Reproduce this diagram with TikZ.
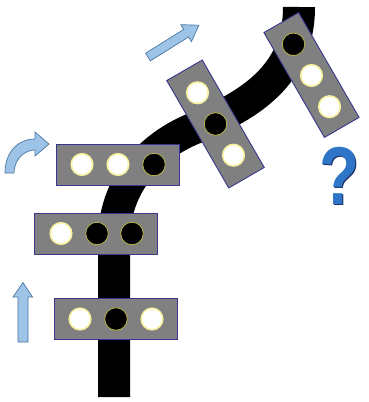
\documentclass[tikz,border=0pt]{standalone}
\usepackage{fontspec}
\definecolor{blockgray}{RGB}{128,128,128}
\definecolor{blockedge}{RGB}{55,55,145}
\definecolor{arrowfill}{RGB}{157,195,230}
\definecolor{arrowedge}{RGB}{75,120,165}
\definecolor{qblue}{RGB}{46,117,200}
\definecolor{qshadow}{RGB}{25,45,100}
\definecolor{litrim}{RGB}{248,242,160}
\definecolor{darktrim}{RGB}{190,190,70}
\newfontfamily\qfont{Liberation Sans}
\begin{document}
\begin{tikzpicture}[x=1pt,y=-1pt,
  block/.style={draw=blockedge, line width=0.9pt, fill=blockgray, minimum width=123pt, minimum height=41pt, inner sep=0pt, outer sep=0pt},
  lit/.style={circle, fill=white, draw=litrim, line width=1.6pt, minimum size=21.5pt, inner sep=0pt},
  dark/.style={circle, fill=black, draw=darktrim, line width=0.7pt, minimum size=22.5pt, inner sep=0pt},
  hint/.style={fill=arrowfill, draw=arrowedge, line width=0.7pt, line join=miter},
  track/.style={line width=32pt, draw=black},
  qmark/.style={font=\qfont\bfseries\fontsize{82}{82}\selectfont, inner sep=0pt, xscale=0.8}]

\useasboundingbox (0,0) rectangle (369,402);
\fill[white] (0,0) rectangle (369,402);

% track
\coordinate (t0) at (114,397);
\coordinate (t1) at (114,240);
\coordinate (t2) at (195,128);
\coordinate (t3) at (299,7);
\draw[track] (t0) -- (t1) .. controls (114,185) and (150,146) .. (t2) .. controls (250,105) and (299,75) .. (t3);

% blocks
\node[block] (A) at (115.5,319) {};
\node[block] (B) at (96,233.5) {};
\node[block] (C) at (118,165) {};
\node[block, rotate=-60, minimum width=124pt] (D) at (215.5,124) {};
\node[block, rotate=-60, minimum width=121pt, minimum height=40pt] (E) at (311.5,75) {};

% lamps
\node[lit]  (A1) at (80,319) {};
\node[dark] (A2) at (116,319) {};
\node[lit]  (A3) at (152,319) {};

\node[lit]  (B1) at (61,233.5) {};
\node[dark] (B2) at (97,233.5) {};
\node[dark] (B3) at (132,233.5) {};

\node[lit]  (C1) at (82,164.5) {};
\node[lit]  (C2) at (118,164.5) {};
\node[dark] (C3) at (154,164.5) {};

\node[lit]  (D1) at (197.5,92.8) {};
\node[dark] (D2) at (215.5,124) {};
\node[lit]  (D3) at (233.5,155.2) {};

\node[dark] (E1) at (293.5,44.3) {};
\node[lit]  (E2) at (311.5,75.5) {};
\node[lit]  (E3) at (329.5,106.7) {};

% hint arrows
\draw[hint] (18,342) -- (18,297) -- (13,297) -- (23,282.5) -- (32.5,297) -- (28,297) -- (28,342) -- cycle;

\draw[hint] (5,173) .. controls (5,152) and (18,139) .. (35,139)
  -- (35,132) -- (49,144) -- (35,156) -- (35,150)
  .. controls (24,150) and (14,160) .. (14,173) -- cycle;

\begin{scope}[shift={(148,57)}, rotate=32]
  \draw[hint] (0,-4.5) -- (45,-4.5) -- (45,-10) -- (60,0) -- (45,10) -- (45,4.5) -- (0,4.5) -- cycle;
\end{scope}

% question mark
\node[qmark, text=qshadow] (qs) at (341,177) {?};
\node[qmark, text=qblue] (q) at (339.5,175.5) {?};
\end{tikzpicture}
\end{document}
